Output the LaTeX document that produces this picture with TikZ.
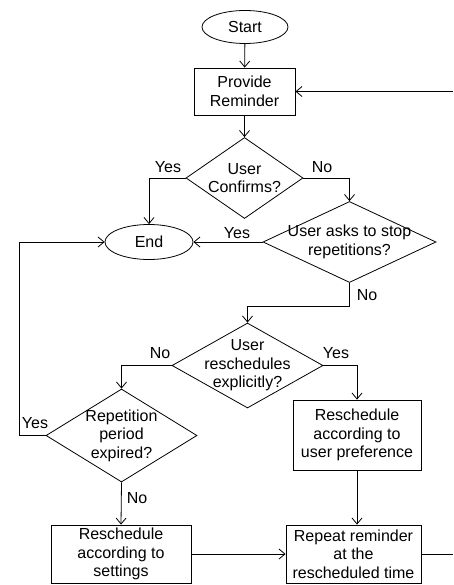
\documentclass[tikz,border=0pt]{standalone}
\usepackage{fontspec}
\setmainfont{Liberation Sans}
\usetikzlibrary{shapes.geometric,arrows.meta}
\begin{document}
\begin{tikzpicture}[x=1pt,y=-1pt,
  every node/.style={font=\fontsize{16}{18.5}\selectfont},
  conn/.style={line width=0.8pt,-{Straight Barb[length=6pt,width=10pt,line width=0.8pt]}},
  plain/.style={line width=0.8pt},
  term/.style={ellipse,draw,line width=0.8pt,inner sep=0pt},
  proc/.style={rectangle,draw,line width=0.8pt,inner sep=0pt,align=center},
  dec/.style={diamond,draw,line width=0.8pt,inner sep=0pt},
  lbl/.style={inner sep=0pt}]
\useasboundingbox (0,0) rectangle (453,585);
\node[term,minimum width=86pt,minimum height=33pt] (start) at (245,27) {Start};
\node[proc,minimum width=101pt,minimum height=47pt] (prov) at (244.5,91.5) {Provide\\Reminder};
\node[dec,minimum width=117pt,minimum height=81pt,label={[align=center]center:User\\Confirms?}] (conf) at (244.5,178) {};
\node[term,minimum width=88pt,minimum height=35pt] (end) at (149,242) {End};
\node[dec,minimum width=173pt,minimum height=81pt,label={[align=center]center:User asks to stop\\repetitions?}] (stop) at (349.5,242) {};
\node[dec,minimum width=151pt,minimum height=85pt,label={[align=center]center:User\\reschedules\\explicitly?}] (resch) at (247.5,365.5) {};
\node[dec,minimum width=151pt,minimum height=93pt,label={[align=center]center:Repetition\\period\\expired?}] (rep) at (121.5,435.5) {};
\node[proc,minimum width=128pt,minimum height=70pt] (pref) at (357,435) {Reschedule\\according to\\user preference};
\node[proc,minimum width=140pt,minimum height=58pt] (sett) at (121,554) {Reschedule\\according to\\settings};
\node[proc,minimum width=135pt,minimum height=58pt] (again) at (353.5,554) {Repeat reminder\\at the\\rescheduled time};
\coordinate (loopin) at (453,91.5);
\coordinate (loopout) at (453,554);
\coordinate (stopbend) at (349.5,306);
\coordinate (repbend) at (19,435.5);

\draw[conn] (start) -- (prov);
\draw[conn] (prov) -- (conf);
\draw[conn] (conf.west) -| (end.north);
\draw[conn] (conf.east) -| (stop.north);
\draw[conn] (stop.west) -- (end.east);
\draw[conn] (stop.south) -- (stopbend) -| (resch.north);
\draw[conn] (resch.west) -| (rep.north);
\draw[conn] (resch.east) -| (pref.north);
\draw[conn] (rep.west) -- (repbend) |- (end.west);
\draw[conn] (rep.south) -- (sett.north);
\draw[conn] (pref.south) -- (pref.south |- again.north);
\draw[conn] (sett.east) -- (again.west);
\draw[plain] (again.east) -- (loopout);
\draw[conn] (loopin) -- (prov.east);

\node[lbl] (l1) at (168,167) {Yes};
\node[lbl] (l2) at (322,167) {No};
\node[lbl] (l3) at (237,233) {Yes};
\node[lbl] (l4) at (367,295) {No};
\node[lbl] (l5) at (160,353) {No};
\node[lbl] (l6) at (336,353) {Yes};
\node[lbl] (l7) at (35,423) {Yes};
\node[lbl] (l8) at (137,498) {No};
\end{tikzpicture}
\end{document}
